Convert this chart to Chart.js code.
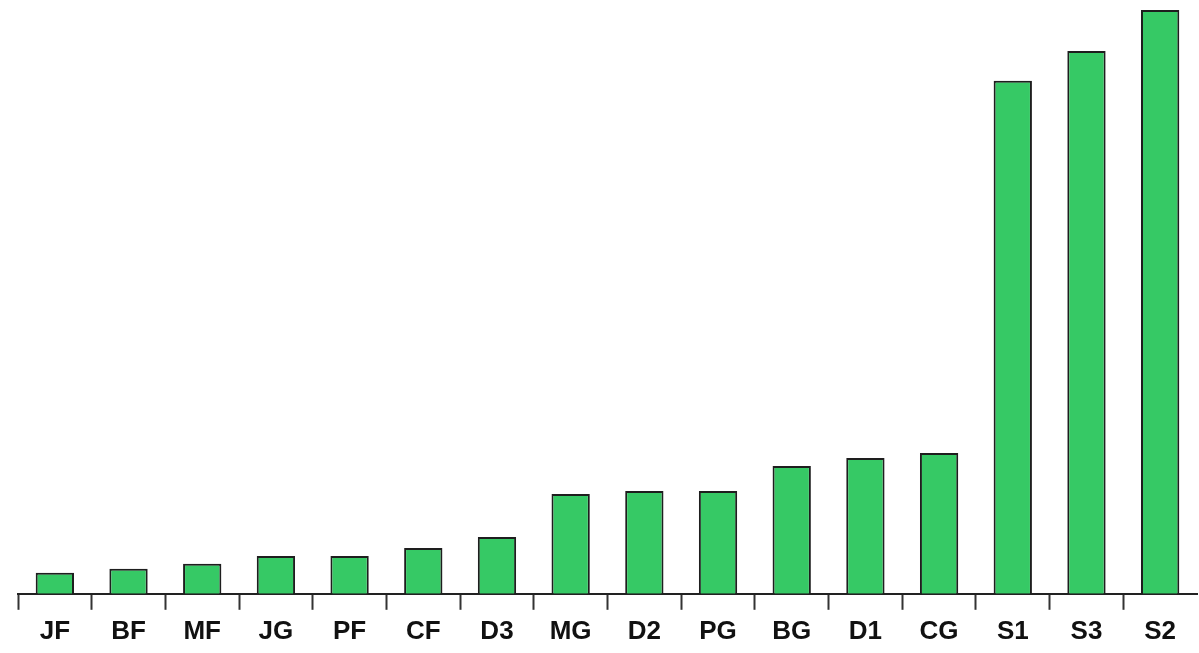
<!DOCTYPE html>
<html>
<head>
<meta charset="utf-8">
<script src="https://cdn.jsdelivr.net/npm/chart.js@4/dist/chart.umd.min.js"></script>
<style>
    html, body { margin: 0; padding: 0; background: #fff; }
    #wrap { width: 1199px; height: 653px; }
</style>
</head>
<body>
<div id="wrap"><canvas id="myChart"></canvas></div>
<script>
const categories = ['JF', 'BF', 'MF', 'JG', 'PF', 'CF', 'D3', 'MG', 'D2', 'PG', 'BG', 'D1', 'CG', 'S1', 'S3', 'S2']
const amounts = [21, 25, 30, 38, 38, 46, 57, 100, 103, 103, 128, 136, 141, 514, 544, 585]

const config = {
    type: 'bar',
    data: {
        labels: categories,
        datasets: [{
            data: amounts,
            backgroundColor: '#36c965',
            borderColor: '#1e1e1e',
            borderWidth: 2,
            barPercentage: 0.52,
            categoryPercentage: 1
        }]
    },
    options: {
        responsive: true,
        maintainAspectRatio: false,
        animation: false,
        layout: { padding: { left: 18, right: 2, top: 0, bottom: 0 } },
        plugins: {
            legend: { display: false },
            tooltip: { enabled: false }
        },
        scales: {
            y: { display: false, min: 0, max: 595 },
            x: {
                offset: true,
                grid: {
                    offset: true,
                    drawOnChartArea: false,
                    tickLength: 16,
                    tickWidth: 2,
                    // no tick mark at the far right end
                    tickColor: (c) => c.type === 'tick' ? '#333' : 'rgba(0,0,0,0)'
                },
                border: { color: '#222', width: 2 },
                ticks: {
                    color: '#111',
                    padding: 6,
                    maxRotation: 0,
                    font: { family: 'Liberation Sans', size: 26, weight: 'bold' }
                }
            }
        }
    }
}

const chart = new Chart(document.querySelector('#myChart'), config)
</script>
</body>
</html>
